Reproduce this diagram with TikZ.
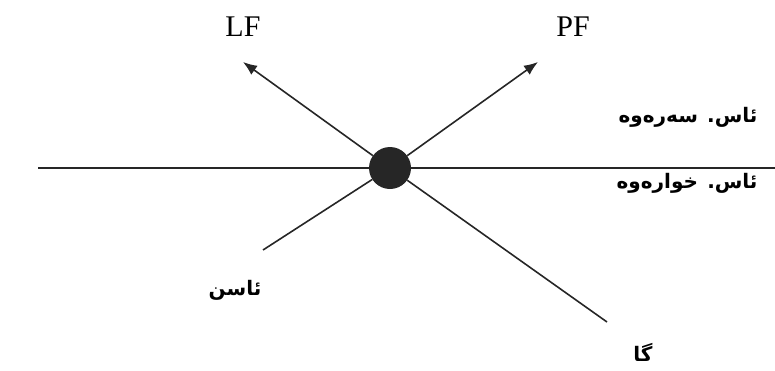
\documentclass[tikz,border=0pt]{standalone}
\usepackage{fontspec}
\setmainfont{Liberation Serif}
\newfontfamily\arabicfont[Script=Arabic]{DejaVu Sans Bold}
\TeXXeTstate=1
\usetikzlibrary{arrows.meta}
\begin{document}
\begin{tikzpicture}[x=1pt,y=-1pt,
  ln/.style={line width=1.6pt,black!85},
  arr/.style={ln,-{Latex[length=14pt,width=11pt]}},
  lat/.style={font=\fontsize{30}{32}\selectfont},
  ar/.style={font=\arabicfont\fontsize{20}{22}\selectfont}]
\useasboundingbox (0,0) rectangle (775,370);
\node[circle,fill=black!85,minimum size=42pt,inner sep=0pt] (c) at (390,168) {};
\coordinate (hl) at (38,168);
\coordinate (hr) at (775,168);
\coordinate (ll) at (263,250);
\coordinate (lr) at (607,322);
\node[lat] (lf) at (243,27) {LF};
\node[lat] (pf) at (573,27) {PF};
\coordinate (lft) at (243,62);
\coordinate (pft) at (538,62);
\draw[ln] (hl) -- (c.west);
\draw[ln] (c.east) -- (hr);
\draw[arr] (c) -- (lft);
\draw[arr] (c) -- (pft);
\draw[ln] (c) -- (ll);
\draw[ln] (c) -- (lr);
\node[ar,anchor=east] (up) at (761,117) {\beginR ئاس. سەرەوە\endR};
\node[ar,anchor=east] (dn) at (761,183) {\beginR ئاس. خوارەوە\endR};
\node[ar] (asn) at (235,290) {\beginR ئاسن\endR};
\node[ar] (ga) at (643,352) {\beginR گا\endR};
\end{tikzpicture}
\end{document}
